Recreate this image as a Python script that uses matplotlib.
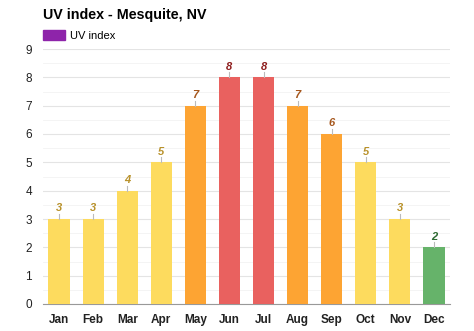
import numpy as np
import matplotlib

matplotlib.use("Agg")
import matplotlib.pyplot as plt
from matplotlib.patches import Patch

months = ["Jan", "Feb", "Mar", "Apr", "May", "Jun", "Jul", "Aug", "Sep", "Oct", "Nov", "Dec"]
uv = [3, 3, 4, 5, 7, 8, 8, 7, 6, 5, 3, 2]

# colour per UV band
def band(v):
    if v <= 2:
        return "#66b36a", "#2f6b34"
    if v <= 5:
        return "#fddb5e", "#b8912a"
    if v <= 7:
        return "#fda433", "#a5561c"
    return "#e9615f", "#8e1d1d"

plt.rcParams["font.family"] = ["Liberation Sans", "DejaVu Sans"]

fig = plt.figure(figsize=(4.74, 3.31), dpi=100)
ax = fig.add_axes([43 / 474, 27 / 331, 407 / 474, 255 / 331])

x = np.arange(len(months))
cols = [band(v)[0] for v in uv]
ax.bar(x, uv, width=0.62, color=cols, zorder=3)

for xi, v in zip(x, uv):
    ax.plot([xi, xi], [v, v + 0.18], color="#bbbbbb", lw=0.8, zorder=3)
    ax.text(xi, v + 0.2, str(v), ha="center", va="bottom", fontsize=8,
            fontweight="bold", style="italic", color=band(v)[1])

ax.set_xlim(-0.47, 11.47)
ax.set_ylim(0, 9)
ax.set_yticks(range(0, 10))
ax.set_yticks(np.arange(0, 9, 0.5), minor=True)
ax.set_xticks(x)
ax.set_xticklabels(months, fontsize=8.5, fontweight="bold")
ax.tick_params(axis="y", labelsize=8.5, length=0, pad=8, colors="#222222")
ax.tick_params(axis="y", which="minor", length=0)
ax.tick_params(axis="x", length=0, pad=7, colors="#222222")
ax.grid(axis="y", which="major", color="#e4e4e4", lw=0.8, zorder=0)
ax.grid(axis="y", which="minor", color="#f3f3f3", lw=0.6, zorder=0)
for s in ["top", "right", "left"]:
    ax.spines[s].set_visible(False)
ax.spines["bottom"].set_color("#999999")
ax.spines["bottom"].set_linewidth(0.8)

fig.text(43 / 474, 1 - 15 / 331, "UV index - Mesquite, NV", fontsize=10.3,
         fontweight="bold", va="center", ha="left")
fig.legend(handles=[Patch(color="#8e24aa", label="UV index")], loc="center left",
           bbox_to_anchor=(43 / 474, 1 - 35.5 / 331), frameon=False, fontsize=8,
           handlelength=2.0, handleheight=1.0, borderpad=0, borderaxespad=0,
           handletextpad=0.45)

fig.savefig("out.png", dpi=100)
